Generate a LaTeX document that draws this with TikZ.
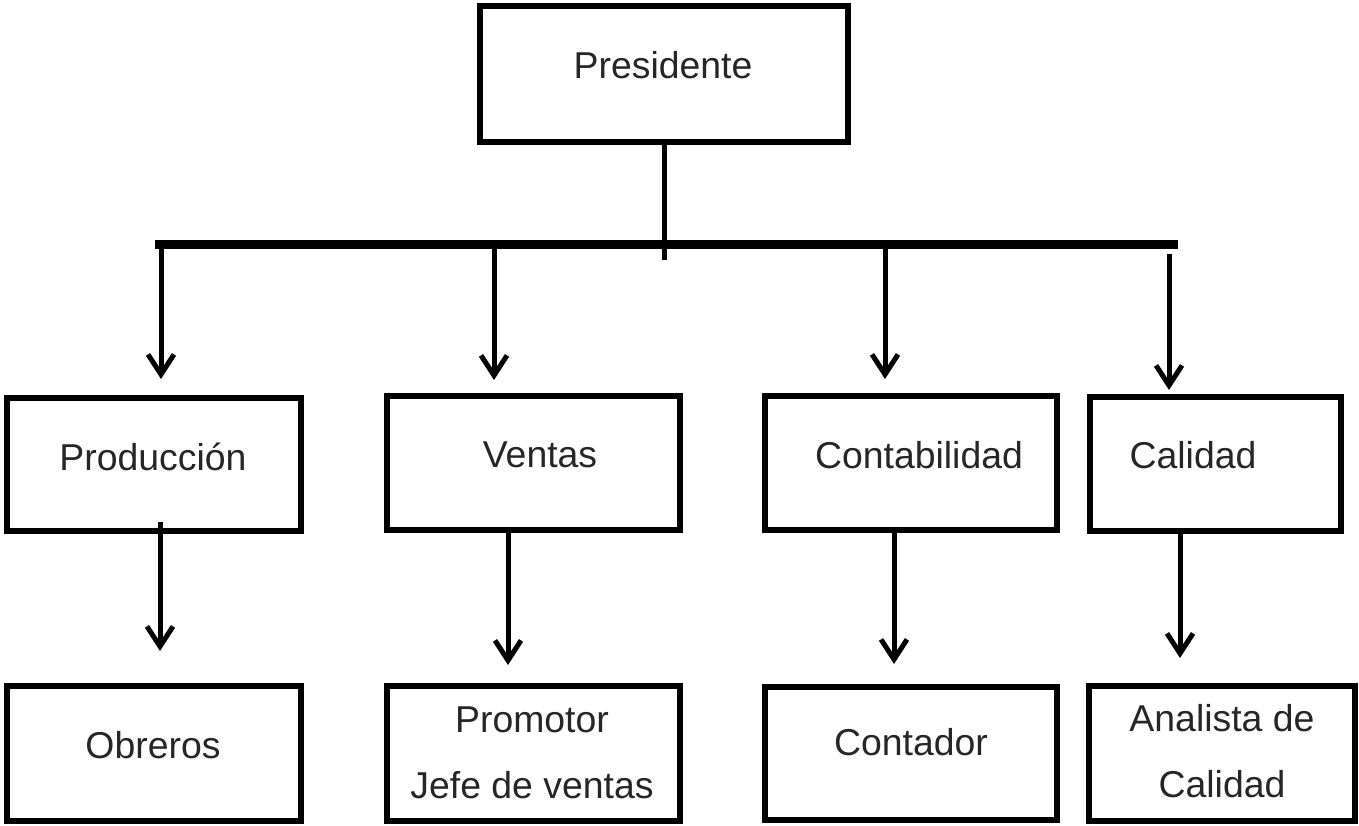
\documentclass[tikz,border=0pt]{standalone}
\usepackage{fontspec}
\setmainfont{Liberation Sans}
\usetikzlibrary{arrows.meta,calc}
\begin{document}
\begin{tikzpicture}[x=0.5pt,y=-0.5pt,
	caja/.style={draw,line width=3pt,inner sep=0pt,minimum height=67pt},
	texto/.style={text=black!85,font=\fontsize{18.7}{33}\selectfont,align=center},
	flecha/.style={-{Straight Barb[length=10pt,width=13pt]},line width=2.5pt},
	barra/.style={line width=4.5pt}]
	\useasboundingbox (0,0) rectangle (1359,825);
	% cajas
	\node[caja,minimum width=184pt,minimum height=68pt] (pres) at (664,73.5) {};
	\node[caja,minimum width=147pt,minimum height=66.5pt] (prod) at (153.5,464) {};
	\node[caja,minimum width=146.5pt] (vent) at (533,462.5) {};
	\node[caja,minimum width=146pt] (cont) at (910.5,462.5) {};
	\node[caja,minimum width=125.5pt] (cal) at (1215,463.5) {};
	\node[caja,minimum width=147pt,minimum height=67.5pt] (obr) at (153.5,753) {};
	\node[caja,minimum width=146.5pt,minimum height=67.5pt] (prom) at (533,753) {};
	\node[caja,minimum width=146pt,minimum height=66.5pt] (ctdr) at (910.5,753) {};
	\node[caja,minimum width=133pt,minimum height=67.5pt] (anal) at (1221.5,753) {};
	% textos
	\node[texto] (tpres) at (663,65) {Presidente};
	\node[texto] (tprod) at (153,457) {Producción};
	\node[texto] (tvent) at (540,455) {Ventas};
	\node[texto] (tcont) at (919,455) {Contabilidad};
	\node[texto] (tcal) at (1193,455) {Calidad};
	\node[texto] (tobr) at (153,745) {Obreros};
	\node[texto] (tprom) at (532,753) {Promotor\\Jefe de ventas};
	\node[texto] (tctdr) at (911,742) {Contador};
	\node[texto] (tanal) at (1222,751) {Analista de\\Calidad};
	% lineas
	\coordinate (barL) at (155,244);
	\coordinate (barR) at (1178,244);
	\draw[barra] (barL) -- (barR);
	\draw[line width=2.5pt] (pres.south) -- ($(pres.south)+(0,115.5)$);
	\draw[flecha] ($(prod.north |- barL)+(7.5,0)$) -- ($(prod.north)+(7.5,-15.5)$);
	\draw[flecha] ($(vent.north |- barL)+(-39,0)$) -- ($(vent.north)+(-39,-12.5)$);
	\draw[flecha] ($(cont.north |- barL)+(-25.5,0)$) -- ($(cont.north)+(-25.5,-13.5)$);
	\draw[flecha] ($(cal.north)+(-46,-139.5)$) -- ($(cal.north)+(-46,-3.5)$);
	\draw[flecha] ($(prod.south)+(6.5,-11.5)$) -- ($(obr.north)+(6.5,-31.5)$);
	\draw[flecha] ($(vent.south)+(-25,0)$) -- ($(prom.north)+(-25,-17.5)$);
	\draw[flecha] ($(cont.south)+(-16.5,0)$) -- ($(ctdr.north)+(-16.5,-19.5)$);
	\draw[flecha] ($(cal.south)+(-35,-3.5)$) -- ($(anal.north)+(-41.5,-24.5)$);
\end{tikzpicture}
\end{document}
